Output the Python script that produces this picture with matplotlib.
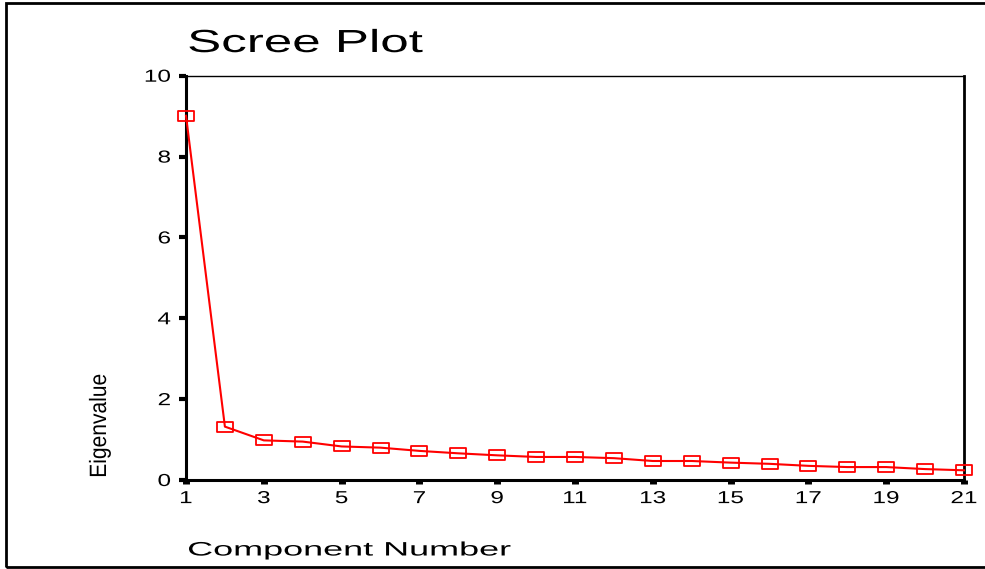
import numpy as np
import matplotlib
matplotlib.use("Agg")
import matplotlib.pyplot as plt
from matplotlib import patheffects
from matplotlib.path import Path
from matplotlib.patches import Rectangle
from matplotlib.transforms import Affine2D

# --- dane ---
components = list(range(1, 22))
eigenvalues = [9.01, 1.32, 0.98, 0.95, 0.83, 0.80, 0.72, 0.66, 0.61, 0.57, 0.57,
               0.54, 0.47, 0.47, 0.43, 0.40, 0.35, 0.32, 0.32, 0.27, 0.24]
x_ticks = list(range(1, 22, 2))
y_ticks = [0, 2, 4, 6, 8, 10]

plt.rcParams['font.family'] = ['Liberation Sans', 'DejaVu Sans']


class Stretch(patheffects.AbstractPathEffect):
    """Rozciaga/sciska tekst (jak w starych wykresach SPSS)."""

    def __init__(self, sx=1.0, sy=1.0, anchor='left'):
        super().__init__()
        self.sx = sx
        self.sy = sy
        self.anchor = anchor

    def draw_path(self, renderer, gc, tpath, affine, rgbFace=None):
        bb = tpath.get_extents(affine)
        if self.anchor == 'left':
            x0, y0 = bb.x0, bb.y0
        elif self.anchor == 'right':
            x0, y0 = bb.x1, bb.y0
        else:
            x0, y0 = (bb.x0 + bb.x1) / 2, bb.y0
        t = affine + Affine2D().translate(-x0, -y0).scale(self.sx, self.sy).translate(x0, y0)
        renderer.draw_path(gc, tpath, t, rgbFace)


# prostokatny marker (szerszy niz wyzszy)
rect_marker = Path([(-1.7, -1), (1.7, -1), (1.7, 1), (-1.7, 1), (-1.7, -1)],
                   [Path.MOVETO, Path.LINETO, Path.LINETO, Path.LINETO, Path.CLOSEPOLY])

fig = plt.figure(figsize=(9.85, 5.69), dpi=100)
ax = fig.add_axes([186 / 985, 1 - 480 / 569, (964 - 186) / 985, (480 - 75.7) / 569])

ax.plot(components, eigenvalues, color='#ff0000', linewidth=1.5,
        marker=rect_marker, markersize=12, markerfacecolor='none',
        markeredgecolor='#ff0000', markeredgewidth=1.3, clip_on=False, zorder=5)

ax.set_xlim(1, 21)
ax.set_ylim(0, 10)
ax.set_xticks(x_ticks)
ax.set_yticks(y_ticks)

for side, lw in [('left', 2.2), ('bottom', 2.2), ('top', 1.0), ('right', 2.0)]:
    ax.spines[side].set_linewidth(lw)
    ax.spines[side].set_color('black')

ax.tick_params(axis='y', direction='out', length=5, width=3, pad=6, labelsize=12.5)
ax.tick_params(axis='x', direction='out', length=3, width=5, pad=5, labelsize=12.5)

for lab in ax.get_yticklabels():
    lab.set_path_effects([Stretch(1.4, 1.0, 'right')])
for lab in ax.get_xticklabels():
    lab.set_path_effects([Stretch(1.4, 1.0, 'center')])

# tytul i opisy osi
fig.text(188 / 985, 1 - 52 / 569, 'Scree Plot', fontsize=23, va='baseline', ha='left',
         path_effects=[Stretch(1.6, 1.0, 'left')])
fig.text(188 / 985, 1 - 555.5 / 569, 'Component Number', fontsize=14, va='baseline',
         ha='left', path_effects=[Stretch(1.85, 1.0, 'left')])
# pionowy opis - sciesniony wzdluz tekstu
fig.text(100 / 985, 1 - 478 / 569, 'Eigenvalue', fontsize=17, rotation=90,
         ha='center', va='bottom', path_effects=[Stretch(1.0, 0.89, 'left')])

# ramka wokol calego rysunku
fig.patches.append(Rectangle((5.5 / 985, 1 - 567 / 569), 1.2, (567 - 3) / 569,
                             transform=fig.transFigure, fill=False,
                             edgecolor='black', linewidth=2.0))

fig.savefig('out.png', dpi=100)
